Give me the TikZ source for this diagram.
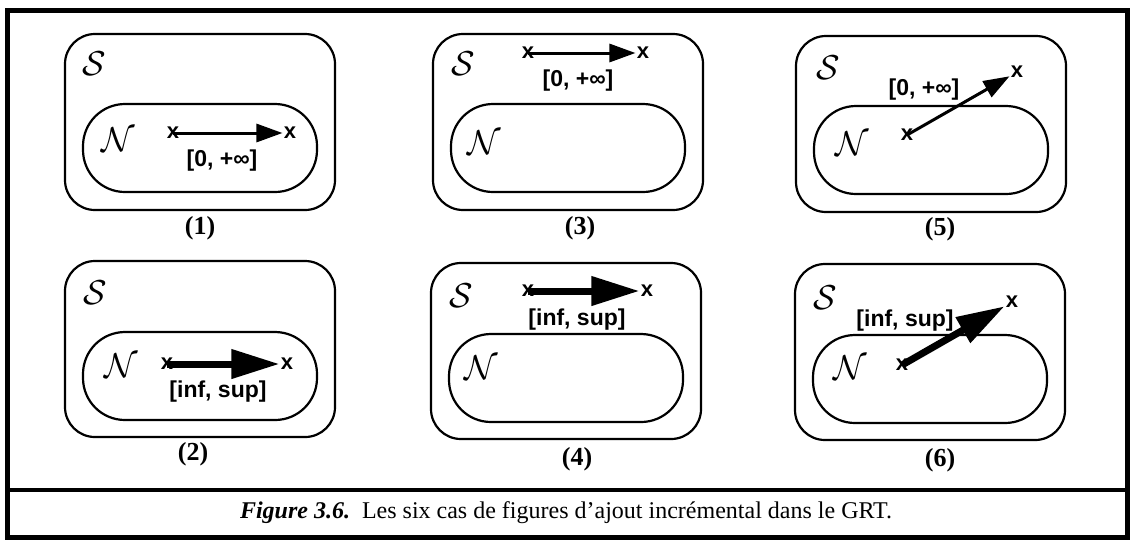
\documentclass[tikz,border=0pt]{standalone}
\usepackage{fontspec}
\setmainfont{Liberation Serif}
\newfontfamily\arialfont{Liberation Sans}
\usetikzlibrary{arrows.meta}
\tikzset{
  sbox/.style={draw, line width=1.1pt, rounded corners=15pt, minimum width=135pt, minimum height=88pt},
  nbox/.style={draw, line width=1.1pt, rounded corners=21pt, minimum width=117pt, minimum height=44pt},
  calig/.style={inner sep=0pt, font=\fontsize{16}{16}\selectfont},
  endx/.style={inner sep=0.5pt, font=\arialfont\bfseries\fontsize{11}{11}\selectfont},
  lbl/.style={inner sep=0pt, font=\arialfont\bfseries\fontsize{11.5}{12}\selectfont},
  num/.style={inner sep=0pt, font=\bfseries\fontsize{13}{13}\selectfont},
  thinarr/.style={line width=1.5pt, -{Triangle[length=13pt,width=9pt]}},
  thickarr/.style={line width=3.5pt, -{Triangle[length=24pt,width=14pt]}}
}
\begin{document}
\begin{tikzpicture}[x=0.5pt,y=-0.5pt]
\useasboundingbox (0,0) rectangle (1133,542);
\draw[line width=2.5pt] (7,10) rectangle (1127,537);
\draw[line width=2pt] (7,490) -- (1127,490);

\node[sbox] (s1) at (200,122) {};
\node[nbox] (n1) at (200,148) {};
\node[calig] (ts1) at (94,64) {$\mathcal{S}$};
\node[calig] (tn1) at (118,140) {$\mathcal{N}$};
\node[endx] (a1) at (173,133) {x};
\node[endx] (b1) at (290,133) {x};
\draw[thinarr] (a1.center) -- (b1);
\node[lbl] (l1) at (222,161) {[0, +∞]};
\node[num] (c1) at (200,228) {(1)};

\node[sbox] (s2) at (200,349) {};
\node[nbox] (n2) at (200,376) {};
\node[calig] (ts2) at (95,293) {$\mathcal{S}$};
\node[calig] (tn2) at (121,366) {$\mathcal{N}$};
\node[endx] (a2) at (167,364) {x};
\node[endx] (b2) at (287,364) {x};
\draw[thickarr] (a2.center) -- (b2);
\node[lbl] (l2) at (218,392) {[inf, sup]};
\node[num] (c2) at (193,454) {(2)};

\node[sbox] (s3) at (568,122) {};
\node[nbox] (n3) at (568,148) {};
\node[calig] (ts3) at (463,64) {$\mathcal{S}$};
\node[calig] (tn3) at (484,143) {$\mathcal{N}$};
\node[endx] (a3) at (528,53) {x};
\node[endx] (b3) at (643,53) {x};
\draw[thinarr] (a3.center) -- (b3);
\node[lbl] (l3) at (578,81) {[0, +∞]};
\node[num] (c3) at (580,228) {(3)};

\node[sbox] (s4) at (566,351) {};
\node[nbox] (n4) at (566,378) {};
\node[calig] (ts4) at (461,296) {$\mathcal{S}$};
\node[calig] (tn4) at (481,368) {$\mathcal{N}$};
\node[endx] (a4) at (528,291) {x};
\node[endx] (b4) at (647,291) {x};
\draw[thickarr] (a4.center) -- (b4);
\node[lbl] (l4) at (577,320) {[inf, sup]};
\node[num] (c4) at (577,459) {(4)};

\node[sbox] (s5) at (931,124) {};
\node[nbox] (n5) at (931,150) {};
\node[calig] (ts5) at (828,68) {$\mathcal{S}$};
\node[calig] (tn5) at (852,144) {$\mathcal{N}$};
\node[endx] (a5) at (907,135) {x};
\node[endx] (b5) at (1017,72) {x};
\draw[thinarr] (a5.center) -- (b5);
\node[lbl] (l5) at (924,90) {[0, +∞]};
\node[num] (c5) at (940,229) {(5)};

\node[sbox] (s6) at (930,352) {};
\node[nbox] (n6) at (930,379) {};
\node[calig] (ts6) at (825,298) {$\mathcal{S}$};
\node[calig] (tn6) at (850,368) {$\mathcal{N}$};
\node[endx] (a6) at (902,365) {x};
\node[endx] (b6) at (1012,302) {x};
\draw[thickarr] (a6.center) -- (b6);
\node[lbl] (l6) at (905,321) {[inf, sup]};
\node[num] (c6) at (940,460) {(6)};

\node[font=\fontsize{12}{14}\selectfont] (cap) at (566,513) {\textbf{\textit{Figure 3.6.}}\enspace Les six cas de figures d’ajout incrémental dans le GRT.};
\end{tikzpicture}
\end{document}
